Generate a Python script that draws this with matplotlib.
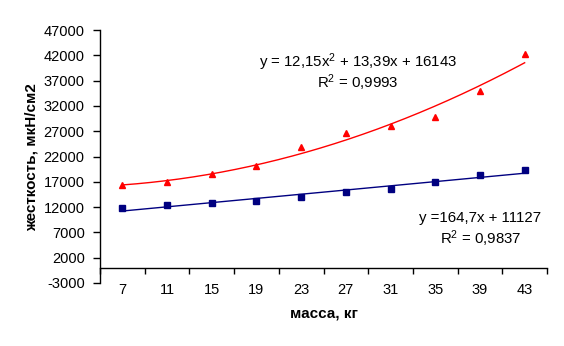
import numpy as np
import matplotlib
matplotlib.use("Agg")
import matplotlib.pyplot as plt

plt.rcParams['font.family'] = ['Liberation Sans', 'DejaVu Sans']
plt.rcParams['mathtext.fontset'] = 'custom'
plt.rcParams['mathtext.rm'] = 'Liberation Sans'
plt.rcParams['mathtext.it'] = 'Liberation Sans'

categories = ["7", "11", "15", "19", "23", "27", "31", "35", "39", "43"]
red_values = [16300, 16900, 18500, 20100, 23800, 26700, 28000, 29900, 34900, 42200]
blue_values = [11900, 12400, 12900, 13300, 14000, 14900, 15500, 16900, 18400, 19400]
y_ticks = [-3000, 2000, 7000, 12000, 17000, 22000, 27000, 32000, 37000, 42000, 47000]

W, H = 564, 346
fig = plt.figure(figsize=(W / 100, H / 100), dpi=100)
left, right, top, bottom = 100, 547, 30, 283
ax = fig.add_axes([left / W, 1 - bottom / H, (right - left) / W, (bottom - top) / H])

x = np.arange(1, len(categories) + 1)

# trend lines
xf = np.linspace(1, len(categories), 200)
pr = np.polyfit(x, red_values, 2)
pb = np.polyfit(x, blue_values, 1)
ax.plot(xf, np.polyval(pr, xf), color='#ff0000', lw=1.0, zorder=2)
ax.plot(xf, np.polyval(pb, xf), color='#000080', lw=1.0, zorder=2)

ax.plot(x, red_values, linestyle='none', marker='^', ms=5, color='#ff0000', zorder=3)
ax.plot(x, blue_values, linestyle='none', marker='s', ms=4.2, color='#000080', zorder=3)

ax.set_xlim(0.5, len(categories) + 0.5)
ax.set_ylim(-3000, 47000)
ax.set_yticks(y_ticks)
ax.set_yticklabels([str(v) for v in y_ticks])

ax.set_xticks(np.arange(0.5, len(categories) + 1, 1.0))
ax.set_xticklabels([])
ax.set_xticks(x, minor=True)
ax.set_xticklabels(categories, minor=True)
ax.tick_params(axis='x', which='major', direction='out', length=4, width=1, color='black')
ax.tick_params(axis='x', which='minor', length=0, pad=11, labelsize=10.5)
ax.tick_params(axis='y', direction='out', length=5, width=1, pad=6, labelsize=10.5)

for s in ['top', 'right']:
    ax.spines[s].set_visible(False)
ax.spines['bottom'].set_position(('data', 0))
ax.spines['left'].set_linewidth(1)
ax.spines['bottom'].set_linewidth(1)

fs = 10.8
fig.text(358 / W, 1 - 62 / H, 'y = 12,15x$^2$ + 13,39x + 16143', ha='center', va='center', fontsize=fs)
fig.text(358 / W, 1 - 83 / H, 'R$^2$ = 0,9993', ha='center', va='center', fontsize=fs)
fig.text(480 / W, 1 - 218 / H, 'y =164,7x + 11127', ha='center', va='center', fontsize=fs)
fig.text(481 / W, 1 - 239 / H, 'R$^2$ = 0,9837', ha='center', va='center', fontsize=fs)

fig.text(324 / W, 1 - 313 / H, 'масса, кг', ha='center', va='center', fontsize=11, fontweight='bold')
fig.text(32 / W, 1 - 157 / H, 'жесткость, мкН/см2', ha='center', va='center', fontsize=11,
         fontweight='bold', rotation=90)

fig.savefig('out.png', dpi=100)
